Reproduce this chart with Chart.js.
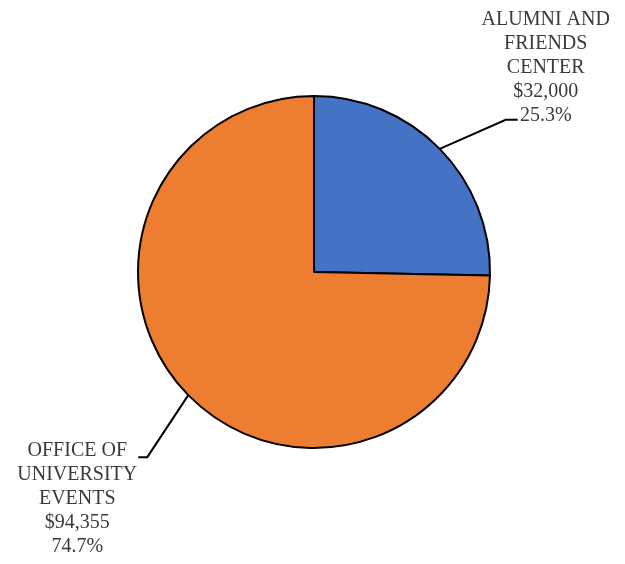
<!DOCTYPE html>
<html>
<head>
<meta charset="utf-8">
<script src="https://cdn.jsdelivr.net/npm/chart.js@4"></script>
<style>
  body { margin: 0; background: #fff; }
  canvas { display: block; }
</style>
</head>
<body>
<canvas id="pie" width="625" height="564"></canvas>
<script>
// budget split between the two offices
const categories = [
  ["ALUMNI AND", "FRIENDS", "CENTER"],
  ["OFFICE OF", "UNIVERSITY", "EVENTS"],
];
const amounts = [32000, 94355];
const colors = ["#4472C4", "#ED7D31"];

const total = amounts.reduce((a, b) => a + b, 0);

// label layout: leader goes from the slice edge to an elbow, then a short tail
const labelSetup = [
  { elbow: [66, -29], tail: 12, textDx: 28, textDy: -4 },
  { elbow: [-41, 62], tail: -9, textDx: -61, textDy: -6 },
];

const calloutPlugin = {
  id: "callouts",
  afterDatasetsDraw(chart) {
    const ctx = chart.ctx;
    const meta = chart.getDatasetMeta(0);
    ctx.save();
    meta.data.forEach((arc, i) => {
      const p = arc.getProps(["x", "y", "startAngle", "endAngle", "outerRadius"], true);
      const mid = (p.startAngle + p.endAngle) / 2;
      const sx = p.x + Math.cos(mid) * p.outerRadius;
      const sy = p.y + Math.sin(mid) * p.outerRadius;
      const cfg = labelSetup[i];
      const ex = sx + cfg.elbow[0];
      const ey = sy + cfg.elbow[1];
      const tx = ex + cfg.tail;

      ctx.strokeStyle = "#000";
      ctx.lineWidth = 2;
      ctx.beginPath();
      ctx.moveTo(sx, sy);
      ctx.lineTo(ex, ey);
      ctx.lineTo(tx, ey);
      ctx.stroke();

      const lines = [
        ...categories[i],
        "$" + amounts[i].toLocaleString("en-US"),
        (amounts[i] / total * 100).toFixed(1) + "%",
      ];
      const lh = 24;
      const cx = tx + cfg.textDx;
      // top label sits above the tail, bottom label starts at the tail
      const y0 = i === 0 ? ey + cfg.textDy - lh * (lines.length - 1) : ey + cfg.textDy;
      ctx.fillStyle = "#3a3a3a";
      ctx.font = "20px 'Liberation Serif'";
      ctx.textAlign = "center";
      ctx.textBaseline = "middle";
      lines.forEach((t, k) => ctx.fillText(t, cx, y0 + k * lh));
    });
    ctx.restore();
  },
};

new Chart(document.getElementById("pie").getContext("2d"), {
  type: "pie",
  data: {
    labels: categories.map((c) => c.join(" ")),
    datasets: [
      {
        data: amounts,
        backgroundColor: colors,
        borderColor: "#000",
        borderWidth: 2,
      },
    ],
  },
  options: {
    responsive: false,
    animation: false,
    layout: {
      padding: { left: 137, right: 134, top: 95, bottom: 115 },
    },
    plugins: {
      legend: { display: false },
      tooltip: { enabled: false },
    },
  },
  plugins: [calloutPlugin],
});
</script>
</body>
</html>
